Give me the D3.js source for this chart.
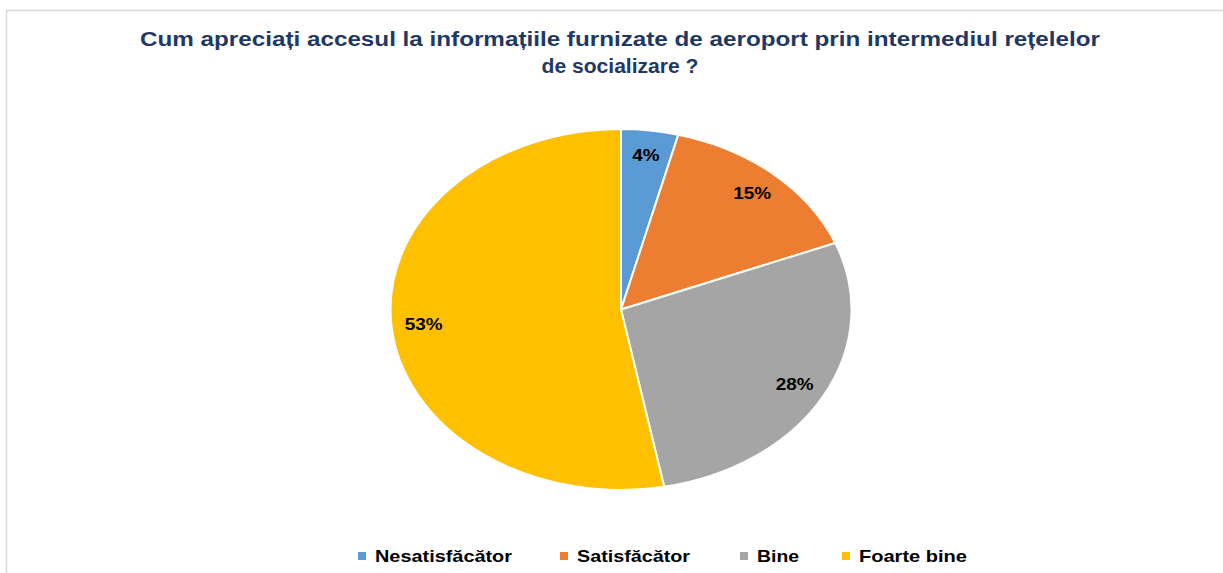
<!DOCTYPE html>
<html lang="ro">
<head>
<meta charset="utf-8">
<script src="https://d3js.org/d3.v7.min.js"></script>
<style>
  body { margin: 0; background: #fff; }
  svg { display: block; }
</style>
</head>
<body>
<script>
    // chart data
    var categories = ["Nesatisfăcător", "Satisfăcător", "Bine", "Foarte bine"];
    var values = [4, 15, 28, 53];
    var colors = ["#5b9bd5", "#ed7d31", "#a5a5a5", "#ffc000"];
    var titleLines = ["Cum apreciați accesul la informațiile furnizate de aeroport prin intermediul rețelelor",
                      "de socializare ?"];

    var width = 1223, height = 573;
    var cx = 621, cy = 309.5, rx = 230.5, ry = 180.5;

    // the original picture is stretched sideways, so text is widened to its measured width
    var titleWidths = [960, 157];
    var legendWidths = [137, 113, 42, 108];

    var svg = d3.select("body").append("svg")
        .attr("width", width)
        .attr("height", height);

    // chart area frame (only top and left edges are visible in the crop)
    svg.append("path")
        .attr("d", "M6.5," + height + "V10.5H" + width)
        .attr("fill", "none")
        .attr("stroke", "#d9d9d9")
        .attr("stroke-width", 1.5);

    // title
    svg.append("g").selectAll("text")
        .data(titleLines)
        .enter().append("text")
        .attr("x", 620)
        .attr("y", function (d, i) { return 46 + i * 26.5; })
        .attr("text-anchor", "middle")
        .attr("font-family", "Liberation Sans, Arial, sans-serif")
        .attr("font-weight", "bold")
        .attr("font-size", 20)
        .attr("fill", "#1f3864")
        .attr("textLength", function (d, i) { return titleWidths[i]; })
        .attr("lengthAdjust", "spacingAndGlyphs")
        .text(function (d) { return d; });

    var pie = d3.pie().sort(null).value(function (d) { return d; });
    var arcs = pie(values);

    var arc = d3.arc().innerRadius(0).outerRadius(ry);
    var labelArc = d3.arc().innerRadius(ry * 0.86).outerRadius(ry * 0.86);

    // the pie is stretched horizontally into an ellipse
    var g = svg.append("g")
        .attr("transform", "translate(" + cx + "," + cy + ")");

    g.append("g")
        .attr("transform", "scale(" + (rx / ry) + ",1)")
        .selectAll("path")
        .data(arcs)
        .enter().append("path")
        .attr("d", arc)
        .attr("fill", function (d, i) { return colors[i]; })
        .attr("stroke", "#fff")
        .attr("stroke-width", 2)
        .attr("vector-effect", "non-scaling-stroke");

    g.selectAll("text")
        .data(arcs)
        .enter().append("text")
        .attr("x", function (d) { return labelArc.centroid(d)[0] * rx / ry; })
        .attr("y", function (d) { return labelArc.centroid(d)[1]; })
        .attr("dy", "0.35em")
        .attr("text-anchor", "middle")
        .attr("font-family", "Liberation Sans, Arial, sans-serif")
        .attr("font-weight", "bold")
        .attr("font-size", 16)
        .attr("fill", "#000")
        .attr("transform", function (d) {
            var x = labelArc.centroid(d)[0] * rx / ry, y = labelArc.centroid(d)[1];
            return "translate(" + x + "," + y + ") scale(1.18,1) translate(" + (-x) + "," + (-y) + ")";
        })
        .text(function (d) { return d.data + "%"; });

    // legend
    var legendX = [358, 560, 740, 842];
    var legend = svg.append("g").selectAll("g")
        .data(categories)
        .enter().append("g")
        .attr("transform", function (d, i) { return "translate(" + legendX[i] + ",556)"; });

    legend.append("rect")
        .attr("x", 0)
        .attr("y", -4)
        .attr("width", 8)
        .attr("height", 8)
        .attr("fill", function (d, i) { return colors[i]; });

    legend.append("text")
        .attr("x", 17)
        .attr("dy", "0.35em")
        .attr("font-family", "Liberation Sans, Arial, sans-serif")
        .attr("font-weight", "bold")
        .attr("font-size", 17)
        .attr("fill", "#000")
        .attr("textLength", function (d, i) { return legendWidths[i]; })
        .attr("lengthAdjust", "spacingAndGlyphs")
        .text(function (d) { return d; });
</script>
</body>
</html>
